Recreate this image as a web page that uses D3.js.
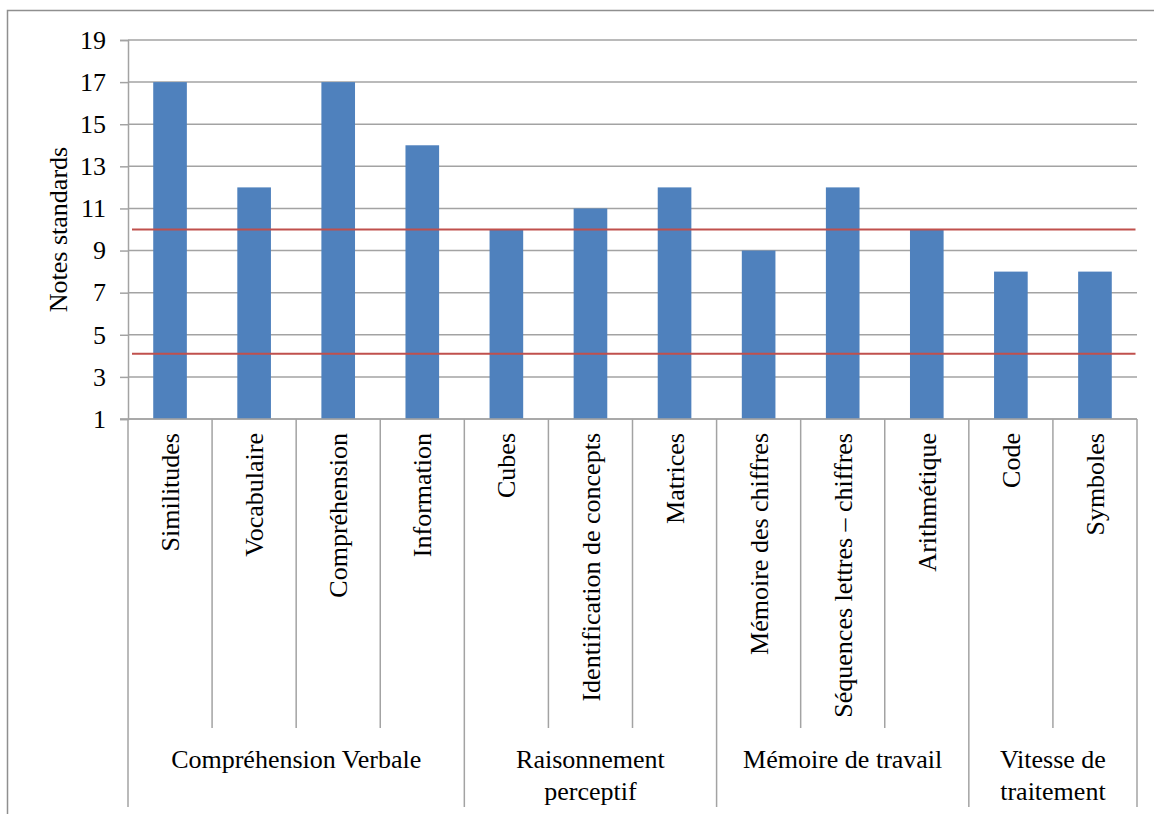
<!DOCTYPE html>
<html>
<head>
<meta charset="utf-8">
<script src="https://cdn.jsdelivr.net/npm/d3@7"></script>
<style>
  html, body { margin: 0; padding: 0; background: #fff; }
  svg { display: block; }
</style>
</head>
<body>
<svg id="chart" width="1154" height="814"></svg>
<script>
// ---- data ----
const categories = ["Similitudes", "Vocabulaire", "Compréhension", "Information",
  "Cubes", "Identification de concepts", "Matrices",
  "Mémoire des chiffres", "Séquences lettres – chiffres", "Arithmétique",
  "Code", "Symboles"];
const scores = [17, 12, 17, 14, 10, 11, 12, 9, 12, 10, 8, 8];
const groups = [
  { lines: ["Compréhension Verbale"], start: 0, end: 4 },
  { lines: ["Raisonnement", "perceptif"], start: 4, end: 7 },
  { lines: ["Mémoire de travail"], start: 7, end: 10 },
  { lines: ["Vitesse de", "traitement"], start: 10, end: 12 }
];
const yTicks = [1, 3, 5, 7, 9, 11, 13, 15, 17, 19];
const refLines = [10, 4.1];
const yTitle = "Notes standards";

// ---- layout ----
const svg = d3.select("#chart");
const plotLeft = 128, plotRight = 1137, plotTop = 40, plotBottom = 419;
const fontSize = 26;
const FONT = "Liberation Serif";
const gridColor = "#a3a3a3";

// chart border
svg.append("rect")
  .attr("x", 7.5).attr("y", 10.5)
  .attr("width", 1200).attr("height", 900)
  .attr("fill", "none").attr("stroke", "#8f8f8f").attr("stroke-width", 1.5);

const x = d3.scaleBand().domain(categories).range([plotLeft, plotRight])
  .paddingInner(0.6).paddingOuter(0.3);
const y = d3.scaleLinear().domain([1, 19]).range([plotBottom, plotTop]);
const step = x.step();
const x0 = x.range()[0];

// gridlines
svg.append("g").selectAll("line").data(yTicks).join("line")
  .attr("x1", plotLeft).attr("x2", plotRight)
  .attr("y1", d => y(d)).attr("y2", d => y(d))
  .attr("stroke", gridColor).attr("stroke-width", 1.5);

// y axis
const yAxis = svg.append("g").attr("transform", `translate(${plotLeft},0)`)
  .call(d3.axisLeft(y).tickValues(yTicks).tickSize(8).tickPadding(14).tickFormat(d3.format("d")))
  .attr("font-family", FONT).attr("font-size", fontSize);
yAxis.select(".domain").attr("stroke", gridColor).attr("stroke-width", 1.5);
yAxis.selectAll(".tick line").attr("stroke", gridColor).attr("stroke-width", 1.5);
yAxis.selectAll(".tick text").attr("fill", "#000")
  .attr("font-family", FONT).attr("font-size", fontSize);

// bars
svg.append("g").selectAll("rect").data(categories).join("rect")
  .attr("x", d => x(d))
  .attr("width", x.bandwidth())
  .attr("y", (d, i) => y(scores[i]))
  .attr("height", (d, i) => y(1) - y(scores[i]))
  .attr("fill", "#4f81bd");

// reference lines
svg.append("g").selectAll("line").data(refLines).join("line")
  .attr("x1", plotLeft + 4).attr("x2", plotRight - 1.5)
  .attr("y1", d => y(d)).attr("y2", d => y(d))
  .attr("stroke", "#c0504d").attr("stroke-width", 2);

// category axis
svg.append("line")
  .attr("x1", plotLeft - 8).attr("x2", plotRight)
  .attr("y1", plotBottom).attr("y2", plotBottom)
  .attr("stroke", gridColor).attr("stroke-width", 1.5);

const groupBounds = new Set(groups.flatMap(g => [g.start, g.end]));
const bounds = d3.range(categories.length + 1);
svg.append("g").selectAll("line").data(bounds).join("line")
  .attr("x1", i => x0 + i * step)
  .attr("x2", i => x0 + i * step)
  .attr("y1", plotBottom)
  .attr("y2", i => groupBounds.has(i) ? 807 : 728)
  .attr("stroke", gridColor).attr("stroke-width", 1.5);

// category labels
svg.append("g").selectAll("text").data(categories).join("text")
  .attr("transform", d => `translate(${x(d) + x.bandwidth() / 2},433) rotate(-90)`)
  .attr("text-anchor", "end")
  .attr("dy", "0.35em")
  .attr("font-family", FONT).attr("font-size", fontSize).attr("fill", "#000")
  .text(d => d);

// group labels
const gl = svg.append("g").selectAll("text").data(groups).join("text")
  .attr("text-anchor", "middle")
  .attr("y", 768)
  .attr("font-family", FONT).attr("font-size", fontSize).attr("fill", "#000");
gl.selectAll("tspan").data(g => g.lines.map(l => ({ l, g }))).join("tspan")
  .attr("x", d => x0 + (d.g.start + d.g.end) / 2 * step)
  .attr("dy", (d, i) => i === 0 ? 0 : 32)
  .text(d => d.l);

// y title
svg.append("text")
  .attr("transform", `translate(67,${(plotTop + plotBottom) / 2}) rotate(-90)`)
  .attr("text-anchor", "middle")
  .attr("font-family", FONT).attr("font-size", fontSize).attr("fill", "#000")
  .text(yTitle);
</script>
</body>
</html>
